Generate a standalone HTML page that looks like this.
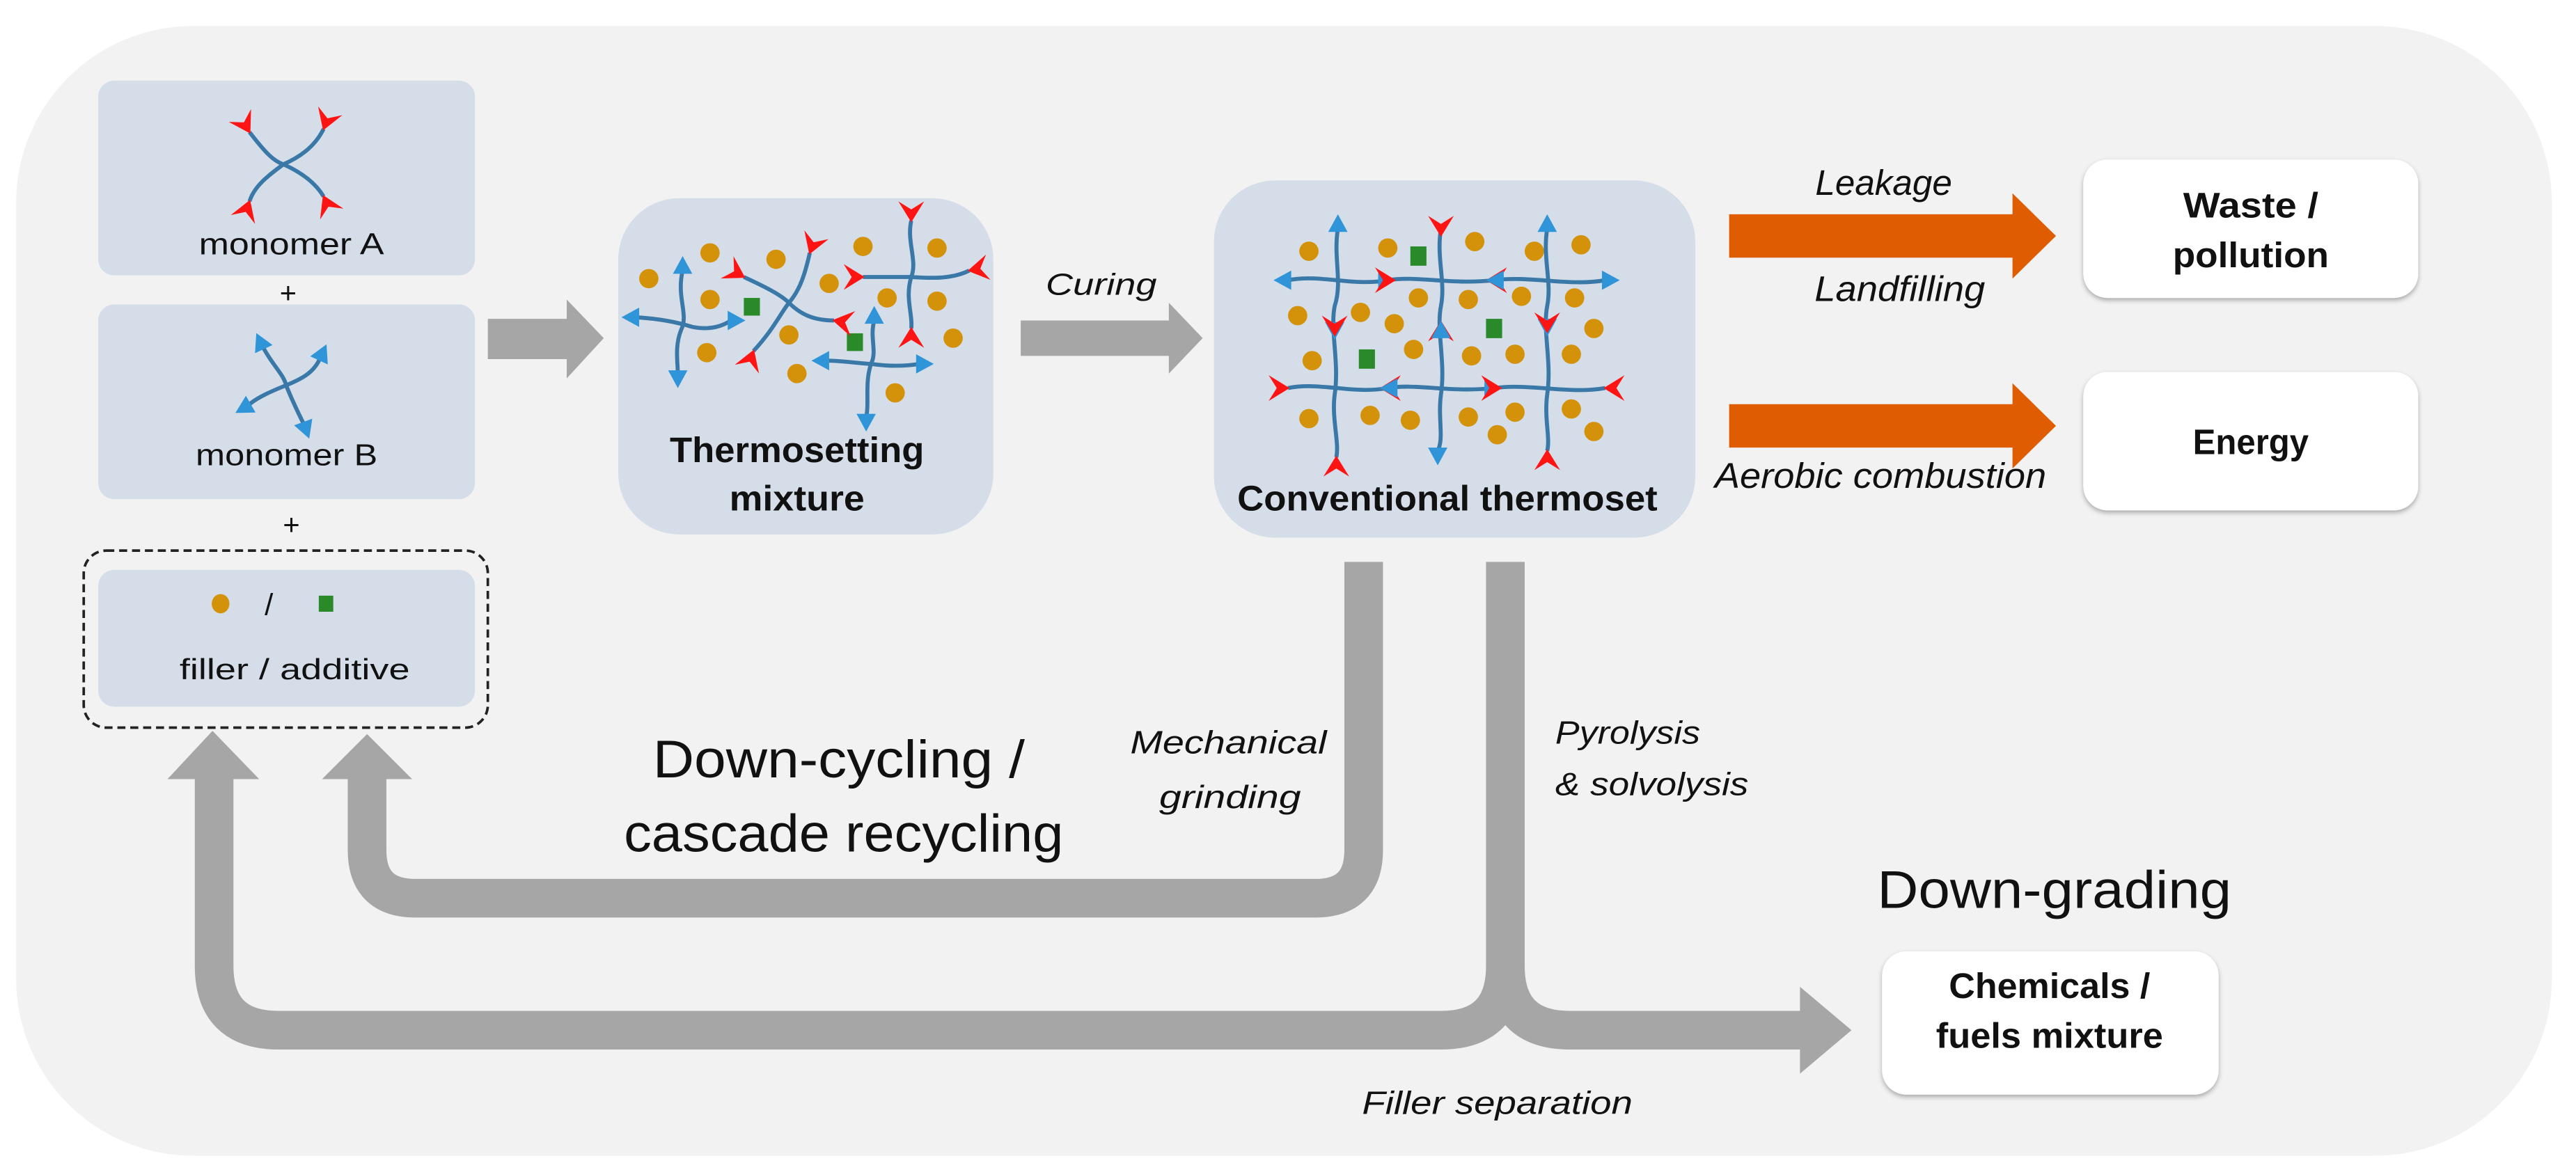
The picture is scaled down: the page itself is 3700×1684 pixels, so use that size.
<!DOCTYPE html>
<html><head><meta charset="utf-8"><style>
html,body{margin:0;padding:0;background:#fff}
svg{display:block}
text{font-family:"Liberation Sans",sans-serif;fill:#111}
.it{font-style:italic}
.b{font-weight:bold}
</style></head><body>
<svg width="3700" height="1684" viewBox="0 0 1600 728" xmlns="http://www.w3.org/2000/svg">
<defs>
<symbol id="rf" overflow="visible"><polygon points="-1,0 12,-8 7,0 12,8" fill="#ff1414"/></symbol>
<symbol id="ba" overflow="visible"><polygon points="9,0 -2,-6 -2,6" fill="#2f95d8"/></symbol>
<filter id="sh" x="-10%" y="-10%" width="120%" height="130%"><feDropShadow dx="0" dy="1.5" stdDeviation="1.5" flood-color="#000" flood-opacity="0.3"/></filter>
</defs>
<rect x="0" y="0" width="1600" height="728" fill="#fff"/>
<rect x="10" y="16" width="1575" height="702" rx="110" fill="#f2f2f2"/>

<!-- left boxes -->
<rect x="61" y="50" width="234" height="121" rx="10" fill="#d5dee8"/>
<text x="181" y="158" font-size="19" text-anchor="middle" textLength="115" lengthAdjust="spacingAndGlyphs">monomer A</text>
<text x="179" y="188" font-size="18" text-anchor="middle">+</text>
<rect x="61" y="189" width="234" height="121" rx="10" fill="#d5dee8"/>
<text x="178" y="289" font-size="19" text-anchor="middle" textLength="113" lengthAdjust="spacingAndGlyphs">monomer B</text>
<text x="181" y="332" font-size="18" text-anchor="middle">+</text>
<rect x="52" y="342" width="251" height="110" rx="14" fill="none" stroke="#222" stroke-width="1.6" stroke-dasharray="5,3"/>
<rect x="61" y="354" width="234" height="85" rx="10" fill="#d5dee8"/>
<ellipse cx="137" cy="375" rx="5.5" ry="6" fill="#d4920a"/>
<text x="167" y="382" font-size="19" text-anchor="middle">/</text>
<rect x="198" y="370" width="9" height="10" fill="#2a8a2a"/>
<text x="183" y="422" font-size="18" text-anchor="middle" textLength="143" lengthAdjust="spacingAndGlyphs">filler / additive</text>

<!-- monomer A molecule -->
<g fill="none" stroke="#3a78a8" stroke-width="2.5">
<path d="M155,82 C165,95 170,100 176,102 C185,106 195,112 201,122"/>
<path d="M201,80 C195,92 185,98 176,102 C168,108 158,115 155,125"/>
</g>
<use href="#rf" transform="translate(155,82) rotate(-120)"/>
<use href="#rf" transform="translate(201,80) rotate(-70)"/>
<use href="#rf" transform="translate(155,125) rotate(110)"/>
<use href="#rf" transform="translate(201,122) rotate(65)"/>
<!-- monomer B molecule -->
<g fill="none" stroke="#3a78a8" stroke-width="2.5">
<path d="M163,215 C170,228 176,232 178,240 C182,250 186,258 189,264"/>
<path d="M199,222 C195,232 186,236 176,240 C166,244 158,248 154,252"/>
</g>
<use href="#ba" transform="translate(163,215) rotate(-115)"/>
<use href="#ba" transform="translate(199,222) rotate(-65)"/>
<use href="#ba" transform="translate(154,252) rotate(150)"/>
<use href="#ba" transform="translate(189,264) rotate(70)"/>

<!-- arrows gray top -->
<polygon points="303,198 352,198 352,186 375,210 352,235 352,223 303,223" fill="#a6a6a6"/>
<text x="684" y="183" font-size="19" class="it" text-anchor="middle" textLength="69" lengthAdjust="spacingAndGlyphs">Curing</text>
<polygon points="634,199 726,199 726,188 747,210 726,232 726,221 634,221" fill="#a6a6a6"/>

<!-- thermosetting mixture -->
<rect x="384" y="123" width="233" height="209" rx="38" fill="#d5dee8"/>
<text x="495" y="287" font-size="22" class="b" text-anchor="middle" textLength="158" lengthAdjust="spacingAndGlyphs">Thermosetting</text>
<text x="495" y="317" font-size="22" class="b" text-anchor="middle" textLength="84" lengthAdjust="spacingAndGlyphs">mixture</text>
<g fill="#d4920a">
<circle cx="441" cy="157" r="6"/><circle cx="403" cy="173" r="6"/><circle cx="482" cy="161" r="6"/>
<circle cx="441" cy="186" r="6"/><circle cx="515" cy="176" r="6"/><circle cx="536" cy="153" r="6"/>
<circle cx="582" cy="154" r="6"/><circle cx="551" cy="185" r="6"/><circle cx="582" cy="187" r="6"/>
<circle cx="490" cy="208" r="6"/><circle cx="439" cy="219" r="6"/><circle cx="592" cy="210" r="6"/>
<circle cx="495" cy="232" r="6"/><circle cx="556" cy="244" r="6"/>
</g>
<rect x="462" y="185" width="10" height="11" fill="#2a8a2a"/>
<rect x="526" y="207" width="10" height="11" fill="#2a8a2a"/>
<g fill="none" stroke="#3a78a8" stroke-width="2.5">
<path d="M424,168 C420,185 428,195 423,205 C419,215 421,225 421,232"/>
<path d="M395,197 C410,198 420,200 430,203 C440,205 448,203 454,199"/>
<path d="M462,172 C475,178 485,183 490,188 C497,195 505,199 518,199"/>
<path d="M503,157 C500,170 497,180 490,188 C484,196 480,205 468,218"/>
<path d="M566,137 C563,150 570,162 566,172 C562,185 567,195 566,204"/>
<path d="M536,172 C550,172 560,172 566,172 C580,173 592,173 602,168"/>
<path d="M543,199 C540,210 545,218 541,226 C537,238 540,250 538,259"/>
<path d="M513,224 C525,224 535,226 541,226 C555,228 565,227 571,226"/>
</g>
<use href="#ba" transform="translate(424,168) rotate(-90)"/>
<use href="#ba" transform="translate(421,232) rotate(90)"/>
<use href="#ba" transform="translate(395,197) rotate(180)"/>
<use href="#ba" transform="translate(454,199) rotate(0)"/>
<use href="#rf" transform="translate(462,172) rotate(-150)"/>
<use href="#rf" transform="translate(503,157) rotate(-70)"/>
<use href="#rf" transform="translate(518,199) rotate(10)"/>
<use href="#rf" transform="translate(468,218) rotate(110)"/>
<use href="#rf" transform="translate(566,137) rotate(-90)"/>
<use href="#rf" transform="translate(566,204) rotate(90)"/>
<use href="#rf" transform="translate(536,172) rotate(180)"/>
<use href="#rf" transform="translate(602,168) rotate(-10)"/>
<use href="#ba" transform="translate(543,199) rotate(-90)"/>
<use href="#ba" transform="translate(538,259) rotate(90)"/>
<use href="#ba" transform="translate(513,224) rotate(180)"/>
<use href="#ba" transform="translate(571,226) rotate(0)"/>

<!-- conventional thermoset -->
<rect x="754" y="112" width="299" height="222" rx="38" fill="#d5dee8"/>
<text x="899" y="317" font-size="22" class="b" text-anchor="middle" textLength="261" lengthAdjust="spacingAndGlyphs">Conventional thermoset</text>
<g fill="#d4920a">
<circle cx="813" cy="156" r="6"/><circle cx="862" cy="154" r="6"/><circle cx="916" cy="150" r="6"/><circle cx="953" cy="156" r="6"/><circle cx="982" cy="152" r="6"/>
<circle cx="806" cy="196" r="6"/><circle cx="845" cy="194" r="6"/><circle cx="866" cy="201" r="6"/><circle cx="881" cy="185" r="6"/><circle cx="912" cy="186" r="6"/><circle cx="945" cy="184" r="6"/><circle cx="978" cy="185" r="6"/><circle cx="990" cy="204" r="6"/>
<circle cx="815" cy="224" r="6"/><circle cx="878" cy="217" r="6"/><circle cx="914" cy="221" r="6"/><circle cx="941" cy="220" r="6"/><circle cx="976" cy="220" r="6"/>
<circle cx="813" cy="260" r="6"/><circle cx="851" cy="258" r="6"/><circle cx="876" cy="261" r="6"/><circle cx="912" cy="259" r="6"/><circle cx="941" cy="256" r="6"/><circle cx="976" cy="254" r="6"/><circle cx="930" cy="270" r="6"/><circle cx="990" cy="268" r="6"/>
</g>
<rect x="876" y="153" width="10" height="12" fill="#2a8a2a"/>
<rect x="923" y="198" width="10" height="12" fill="#2a8a2a"/>
<rect x="844" y="217" width="10" height="12" fill="#2a8a2a"/>
<g fill="none" stroke="#3a78a8" stroke-width="2.5">
<path d="M831,142 C828,160 834,175 829,190 C826,205 832,225 829,245 C827,260 832,275 830,284"/>
<path d="M895,142 C892,160 898,175 895,190 C892,205 898,225 895,245 C893,260 897,272 893,280"/>
<path d="M961,142 C958,160 964,175 961,190 C958,205 964,225 961,245 C959,260 963,272 961,280"/>
<path d="M800,174 C820,170 840,178 862,174 C880,171 900,177 928,174 C950,171 975,178 997,174"/>
<path d="M800,241 C820,237 840,245 862,241 C880,238 900,244 928,241 C950,238 975,245 997,241"/>
</g>
<use href="#ba" transform="translate(831,142) rotate(-90)"/>
<use href="#rf" transform="translate(895,146) rotate(-90)"/>
<use href="#ba" transform="translate(961,142) rotate(-90)"/>
<use href="#rf" transform="translate(830,284) rotate(90)"/>
<use href="#ba" transform="translate(893,280) rotate(90)"/>
<use href="#rf" transform="translate(961,280) rotate(90)"/>
<use href="#ba" transform="translate(829,202) rotate(90)"/>
<use href="#rf" transform="translate(829,208) rotate(-90)"/>
<use href="#rf" transform="translate(895,200) rotate(90)"/>
<use href="#ba" transform="translate(895,208) rotate(-90)"/>
<use href="#ba" transform="translate(961,200) rotate(90)"/>
<use href="#rf" transform="translate(961,206) rotate(-90)"/>
<use href="#ba" transform="translate(800,174) rotate(180)"/>
<use href="#ba" transform="translate(997,174) rotate(0)"/>
<use href="#ba" transform="translate(858,174) rotate(0)"/>
<use href="#rf" transform="translate(866,174) rotate(180)"/>
<use href="#rf" transform="translate(924,174) rotate(0)"/>
<use href="#ba" transform="translate(932,174) rotate(180)"/>
<use href="#rf" transform="translate(800,241) rotate(180)"/>
<use href="#rf" transform="translate(997,241) rotate(0)"/>
<use href="#rf" transform="translate(858,241) rotate(0)"/>
<use href="#ba" transform="translate(866,241) rotate(180)"/>
<use href="#ba" transform="translate(924,241) rotate(0)"/>
<use href="#rf" transform="translate(932,241) rotate(180)"/>

<!-- orange arrows -->
<polygon points="1074,133 1250,133 1250,120 1277,146.5 1250,173 1250,160 1074,160" fill="#e05c00"/>
<polygon points="1074,251 1250,251 1250,238 1277,264.5 1250,291 1250,278 1074,278" fill="#e05c00"/>
<text x="1170" y="121" font-size="22" class="it" text-anchor="middle" textLength="85" lengthAdjust="spacingAndGlyphs">Leakage</text>
<text x="1180" y="187" font-size="22" class="it" text-anchor="middle" textLength="106" lengthAdjust="spacingAndGlyphs">Landfilling</text>
<text x="1168" y="303" font-size="22" class="it" text-anchor="middle" textLength="206" lengthAdjust="spacingAndGlyphs">Aerobic combustion</text>

<!-- right boxes -->
<rect x="1294" y="99" width="208" height="86" rx="15" fill="#fff" filter="url(#sh)"/>
<text x="1398" y="135" font-size="22" class="b" text-anchor="middle" textLength="84" lengthAdjust="spacingAndGlyphs">Waste /</text>
<text x="1398" y="166" font-size="22" class="b" text-anchor="middle" textLength="97" lengthAdjust="spacingAndGlyphs">pollution</text>
<rect x="1294" y="231" width="208" height="86" rx="15" fill="#fff" filter="url(#sh)"/>
<text x="1398" y="282" font-size="22" class="b" text-anchor="middle" textLength="72" lengthAdjust="spacingAndGlyphs">Energy</text>
<rect x="1169" y="591" width="209" height="89" rx="15" fill="#fff" filter="url(#sh)"/>
<text x="1273" y="620" font-size="22" class="b" text-anchor="middle" textLength="125" lengthAdjust="spacingAndGlyphs">Chemicals /</text>
<text x="1273" y="651" font-size="22" class="b" text-anchor="middle" textLength="141" lengthAdjust="spacingAndGlyphs">fuels mixture</text>

<!-- gray recycling connectors -->
<g fill="none" stroke="#a6a6a6" stroke-width="24">
<path d="M847,349 L847,528 Q847,558 817,558 L258,558 Q228,558 228,528 L228,482"/>
<path d="M935,349 L935,600 Q935,640 895,640 L173,640 Q133,640 133,600 L133,482"/>
<path d="M935,600 Q935,640 975,640 L1120,640"/>
</g>
<polygon points="200,484 256,484 228,456" fill="#a6a6a6"/>
<polygon points="104,484 161,484 132,454" fill="#a6a6a6"/>
<polygon points="1118,613 1118,667 1150,640" fill="#a6a6a6"/>

<!-- labels bottom -->
<text x="521" y="483" font-size="33" text-anchor="middle" textLength="231" lengthAdjust="spacingAndGlyphs">Down-cycling /</text>
<text x="524" y="529" font-size="33" text-anchor="middle" textLength="273" lengthAdjust="spacingAndGlyphs">cascade recycling</text>
<text x="763" y="468" font-size="20" class="it" text-anchor="middle" textLength="122" lengthAdjust="spacingAndGlyphs">Mechanical</text>
<text x="764" y="502" font-size="20" class="it" text-anchor="middle" textLength="88" lengthAdjust="spacingAndGlyphs">grinding</text>
<text x="966" y="462" font-size="20" class="it" textLength="90" lengthAdjust="spacingAndGlyphs">Pyrolysis</text>
<text x="966" y="494" font-size="20" class="it" textLength="120" lengthAdjust="spacingAndGlyphs">&amp; solvolysis</text>
<text x="1276" y="564" font-size="33" text-anchor="middle" textLength="220" lengthAdjust="spacingAndGlyphs">Down-grading</text>
<text x="930" y="692" font-size="20" class="it" text-anchor="middle" textLength="168" lengthAdjust="spacingAndGlyphs">Filler separation</text>
</svg>
</body></html>
